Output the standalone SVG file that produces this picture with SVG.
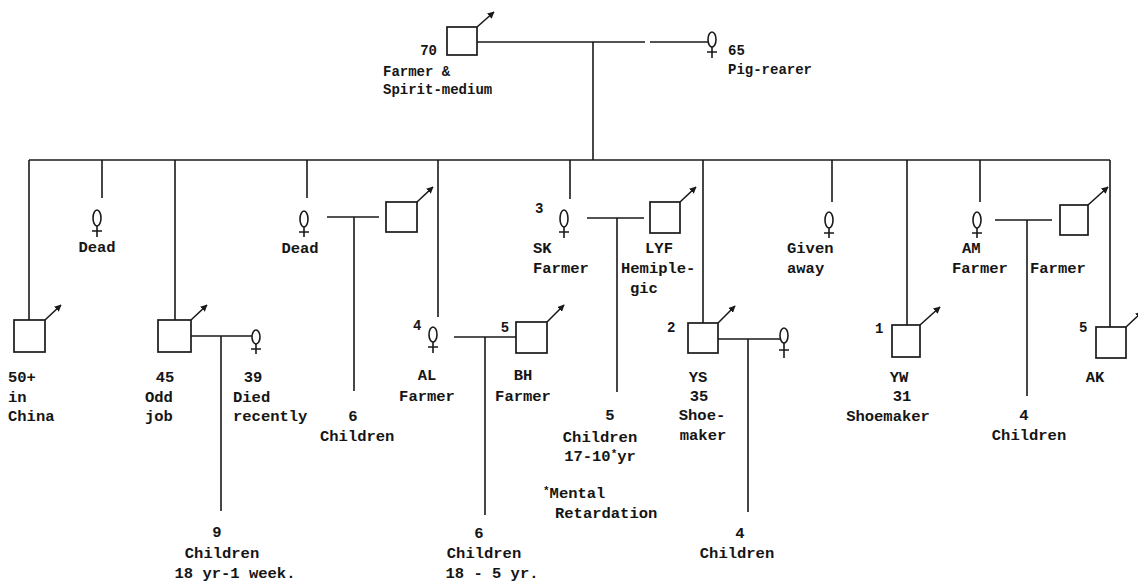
<svg xmlns="http://www.w3.org/2000/svg" width="1138" height="581" viewBox="0 0 1138 581">
<defs>
<marker id="ah" viewBox="0 0 10 10" refX="9" refY="5" markerWidth="7" markerHeight="7" markerUnits="userSpaceOnUse" orient="auto">
<path d="M0,0 L10,5 L0,10 z" fill="#1a1a1a"/>
</marker>
<style>
.ln{stroke:#1a1a1a;stroke-width:1.6;fill:none}
.sq{stroke:#1a1a1a;stroke-width:1.7;fill:#fff}
.ar{stroke:#1a1a1a;stroke-width:1.6;fill:none;marker-end:url(#ah)}
.ov{stroke:#1a1a1a;stroke-width:1.6;fill:#fff}
text{font-family:"Liberation Mono","DejaVu Sans Mono",monospace;font-weight:bold;font-size:15.5px;fill:#151515}
.sm{font-size:14px}
.n{font-size:14px}
.m{text-anchor:middle}
.e{text-anchor:end}
</style>
</defs>
<rect width="1138" height="581" fill="#fff"/>
<g id="connectors">
<path class="ln" d="M477,42 H645 M650,42 H708"/>
<path class="ln" d="M593,42 V160"/>
<path class="ln" d="M29,160 H1110"/>
<path class="ln" d="M29,160 V320 M102,160 V198 M175,160 V320 M307,160 V198 M438,160 V317 M570,160 V199 M703,160 V323 M832,160 V202 M907,160 V325 M980,160 V202 M1110,160 V327"/>
<path class="ln" d="M191,336 H252 M221,336 V511"/>
<path class="ln" d="M327,217 H379 M354,217 V391"/>
<path class="ln" d="M454,337 H516 M485,337 V515"/>
<path class="ln" d="M587,218 H644 M617,218 V392"/>
<path class="ln" d="M718,339 H780 M748,339 V512"/>
<path class="ln" d="M995,220 H1052 M1027,220 V396"/>
</g>
<g id="father">
<rect class="sq" x="447" y="27" width="30" height="28"/>
<path class="ar" d="M477,27 L494,12"/>
<text class="sm e" x="437" y="55">70</text>
<text class="sm" x="383" y="76">Farmer &amp;</text>
<text class="sm" x="383" y="94">Spirit-medium</text>
</g>
<g id="mother">
<ellipse class="ov" cx="712" cy="39.5" rx="4" ry="7.5"/>
<path class="ln" d="M712,47 V58 M707,52 H717"/>
<text class="sm" x="728" y="55">65</text>
<text class="sm" x="728" y="74">Pig-rearer</text>
</g>
<g id="child-50">
<rect class="sq" x="14" y="320" width="31" height="32"/>
<path class="ar" d="M45,320 L61,305"/>
<text x="8" y="382">50+</text>
<text x="8" y="402">in</text>
<text x="8" y="421">China</text>
</g>
<g id="child-dead1">
<ellipse class="ov" cx="97" cy="218" rx="4" ry="8"/>
<path class="ln" d="M97,226 V237 M92,231 H102"/>
<text class="m" x="97" y="252">Dead</text>
</g>
<g id="child-45">
<rect class="sq" x="158" y="320" width="33" height="32"/>
<path class="ar" d="M191,320 L207,305"/>
<text class="m" x="165" y="382">45</text>
<text x="145" y="402">Odd</text>
<text x="145" y="421">job</text>
</g>
<g id="wife-39">
<ellipse class="ov" cx="256" cy="337" rx="4" ry="7"/>
<path class="ln" d="M256,344 V354 M251,349 H261"/>
<text class="m" x="253" y="382">39</text>
<text x="233" y="402">Died</text>
<text x="233" y="421">recently</text>
</g>
<g id="children-9">
<text class="m" x="217" y="537">9</text>
<text class="m" x="222" y="558">Children</text>
<text class="m" x="235" y="578">18 yr-1 week.</text>
</g>
<g id="child-dead2">
<ellipse class="ov" cx="304" cy="219" rx="4" ry="8"/>
<path class="ln" d="M304,227 V237 M299,232 H309"/>
<text class="m" x="300" y="253">Dead</text>
</g>
<g id="husband-dead2">
<rect class="sq" x="386" y="202" width="31" height="30"/>
<path class="ar" d="M417,202 L433,187"/>
</g>
<g id="children-6a">
<text class="m" x="353" y="421">6</text>
<text x="320" y="441">Children</text>
</g>
<g id="child-AL">
<ellipse class="ov" cx="433" cy="334.5" rx="4" ry="7.5"/>
<path class="ln" d="M433,342 V353 M428,347 H438"/>
<text class="n" x="413" y="330">4</text>
<text class="m" x="427" y="380">AL</text>
<text class="m" x="427" y="401">Farmer</text>
</g>
<g id="husband-BH">
<rect class="sq" x="516" y="322" width="31" height="31"/>
<path class="ar" d="M547,322 L564,305"/>
<text class="n m" x="505" y="332">5</text>
<text class="m" x="523" y="380">BH</text>
<text class="m" x="523" y="401">Farmer</text>
</g>
<g id="children-6b">
<text class="m" x="479" y="538">6</text>
<text class="m" x="484" y="558">Children</text>
<text class="m" x="492" y="578">18 - 5 yr.</text>
</g>
<g id="child-SK">
<ellipse class="ov" cx="564" cy="218.5" rx="4" ry="8.5"/>
<path class="ln" d="M564,227 V238 M559,232 H569"/>
<text class="n" x="535" y="213">3</text>
<text x="533" y="253">SK</text>
<text x="533" y="273">Farmer</text>
</g>
<g id="husband-LYF">
<rect class="sq" x="650" y="202" width="30" height="31"/>
<path class="ar" d="M680,202 L696,187"/>
<text class="m" x="659" y="253">LYF</text>
<text x="621" y="273">Hemiple-</text>
<text x="630" y="293">gic</text>
</g>
<g id="children-5">
<text class="m" x="610" y="420">5</text>
<text class="m" x="600" y="442">Children</text>
<text class="m" x="600" y="461">17-10<tspan font-size="11" dy="-4">*</tspan><tspan dy="4">yr</tspan></text>
<text x="543" y="498"><tspan font-size="11" dy="-4">*</tspan><tspan dy="4">Mental</tspan></text>
<text x="555" y="518">Retardation</text>
</g>
<g id="child-YS">
<rect class="sq" x="688" y="323" width="30" height="30"/>
<path class="ar" d="M718,323 L735,306"/>
<text class="n" x="667" y="332">2</text>
<text class="m" x="698" y="382">YS</text>
<text class="m" x="699" y="401">35</text>
<text class="m" x="702" y="420">Shoe-</text>
<text class="m" x="703" y="440">maker</text>
</g>
<g id="wife-YS">
<ellipse class="ov" cx="784" cy="335.5" rx="4" ry="7.5"/>
<path class="ln" d="M784,343 V358 M779,350 H789"/>
</g>
<g id="children-4a">
<text class="m" x="740" y="538">4</text>
<text class="m" x="737" y="558">Children</text>
</g>
<g id="child-given">
<ellipse class="ov" cx="829" cy="220" rx="4" ry="8"/>
<path class="ln" d="M829,228 V238 M824,233 H834"/>
<text x="787" y="253">Given</text>
<text x="787" y="273">away</text>
</g>
<g id="child-YW">
<rect class="sq" x="892" y="325" width="28" height="32"/>
<path class="ar" d="M920,325 L940,307"/>
<text class="n" x="875" y="333">1</text>
<text class="m" x="899" y="382">YW</text>
<text class="m" x="902" y="401">31</text>
<text class="m" x="888" y="421">Shoemaker</text>
</g>
<g id="child-AM">
<ellipse class="ov" cx="977" cy="220" rx="4" ry="8"/>
<path class="ln" d="M977,228 V238 M972,233 H982"/>
<text x="962" y="253">AM</text>
<text x="952" y="273">Farmer</text>
</g>
<g id="husband-AM">
<rect class="sq" x="1060" y="205" width="28" height="30"/>
<path class="ar" d="M1088,205 L1108,187"/>
<text x="1030" y="273">Farmer</text>
</g>
<g id="children-4b">
<text class="m" x="1024" y="420">4</text>
<text class="m" x="1029" y="440">Children</text>
</g>
<g id="child-AK">
<rect class="sq" x="1096" y="327" width="30" height="31"/>
<path class="ar" d="M1126,327 L1142,312"/>
<text class="n" x="1079" y="332">5</text>
<text class="m" x="1095" y="382">AK</text>
</g>
</svg>
